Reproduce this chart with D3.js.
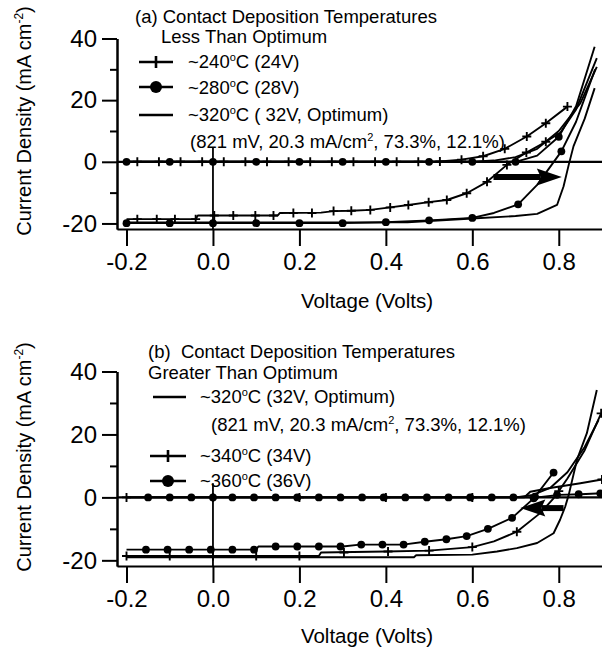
<!DOCTYPE html>
<html lang="en">
<head>
<meta charset="utf-8">
<title>J-V curves vs contact deposition temperature</title>
<style>
  body { margin:0; background:white; }
  svg { font-family: 'Liberation Sans', Arial, sans-serif; fill:black; }
  .axis path, .axis line { stroke:black; stroke-width:2; }
  .axis text { font-size:24px; fill:black; font-family: 'Liberation Sans', Arial, sans-serif; }
  .curve { fill:none; stroke:black; stroke-width:1.9; stroke-linejoin:round; }
  .lbl { font-size:18.5px; white-space:pre; }
</style>
</head>
<body>
<div id="canvas"></div>
<script src="https://cdnjs.cloudflare.com/ajax/libs/d3/7.8.5/d3.min.js"></script>
<script>
// tick values
var voltTicks = [-0.2, 0, 0.2, 0.4, 0.6, 0.8];
var curTicks = [-20, 0, 20, 40];
var curMinor = [-10, 10, 30];

// (a) less than optimum  [V, mA/cm2]
var a240Dark = [[-0.2,0],[0.5,0],[0.525,0.1],[0.575,0.7],[0.625,1.8],[0.675,4.2],[0.726,8.2],[0.77,12.5],[0.82,17.9]];
var a240DarkMarks = [[-0.175,0],[-0.125,0],[-0.075,0],[-0.025,0],[0.025,0],[0.075,0],[0.125,0],[0.175,0],[0.225,0],[0.275,0],[0.325,0],[0.375,0],[0.425,0],[0.475,0],[0.525,0.1],[0.575,0.7],[0.625,1.8],[0.675,4.2],[0.726,8.2],[0.77,12.5],[0.82,17.9]];
var a240Light = [[-0.2,-18.6],[-0.04,-18.6],[-0.035,-17.4],[0.15,-17.4],[0.155,-16.6],[0.25,-16.5],[0.279,-16.0],[0.32,-15.9],[0.364,-15.6],[0.41,-14.8],[0.452,-14.0],[0.499,-13.1],[0.541,-12.4],[0.587,-10.2],[0.634,-6.5],[0.68,-1.0],[0.725,3.0],[0.77,6.5],[0.804,9.5],[0.84,17],[0.888,33.6]];
var a240LightMarks = [[-0.175,-18.6],[-0.13,-18.6],[-0.088,-18.6],[-0.04,-18.6],[0.003,-17.4],[0.047,-17.4],[0.098,-17.4],[0.14,-17.4],[0.186,-16.6],[0.229,-16.6],[0.279,-16.0],[0.32,-15.9],[0.364,-15.6],[0.41,-14.8],[0.452,-14.0],[0.499,-13.1],[0.541,-12.4],[0.587,-10.2],[0.634,-6.5],[0.68,-1.0],[0.725,3.0],[0.77,6.5]];
var a280Dark = [[-0.2,0],[0.7,0],[0.75,2.0],[0.8,8.1],[0.84,18],[0.883,37.3]];
var a280DarkMarks = [[-0.2,0],[-0.1,0],[0,0],[0.1,0],[0.2,0],[0.3,0],[0.4,0],[0.5,0],[0.6,0],[0.7,0],[0.8,8.1]];
var a280Light = [[-0.2,-19.9],[0.3,-19.9],[0.4,-19.6],[0.5,-19.0],[0.6,-18.2],[0.65,-16.6],[0.706,-13.8],[0.75,-7.5],[0.806,3.4],[0.84,13],[0.884,30]];
var a280LightMarks = [[-0.2,-19.9],[-0.1,-19.9],[0,-19.9],[0.1,-19.9],[0.2,-19.9],[0.3,-19.9],[0.4,-19.6],[0.5,-19.0],[0.6,-18.2],[0.706,-13.8],[0.806,3.4]];
var a320Dark = [[-0.2,0],[0.6,0],[0.65,0.4],[0.7,1.5],[0.75,4.2],[0.8,10],[0.85,19],[0.888,30.8]];
var a320Light = [[-0.2,-19.7],[0.45,-19.6],[0.6,-18.4],[0.7,-17.6],[0.75,-16.9],[0.796,-14],[0.811,-8],[0.823,-1],[0.834,5],[0.86,14],[0.883,23.9]];

// (b) greater than optimum
var b320Dark = [[-0.2,0],[0.7,0],[0.74,0.8],[0.78,3],[0.82,8],[0.86,16],[0.892,24.6]];
var b320Light = [[-0.2,-19.0],[0.465,-19.0],[0.47,-18.4],[0.6,-18.2],[0.657,-17.2],[0.703,-16.1],[0.75,-14.5],[0.788,-11.4],[0.803,-7.1],[0.815,-2.9],[0.823,0.8],[0.842,11.9],[0.865,20.4],[0.888,34.1]];
var b340Dark = [[-0.2,0],[0.72,0],[0.734,1.8],[0.78,3],[0.85,4.5],[0.9,5.7]];
var b340DarkMarks = [[-0.2,0],[0,0],[0.2,0],[0.4,0],[0.6,0],[0.9,5.7]];
var b340Light = [[-0.2,-18.6],[0.245,-18.6],[0.25,-17.5],[0.4,-17.2],[0.5,-16.9],[0.6,-15.8],[0.65,-14],[0.703,-10.9],[0.757,-5],[0.79,0],[0.82,6],[0.86,15],[0.898,26.7]];
var b340LightMarks = [[-0.2,-18.6],[-0.1,-18.6],[0,-18.6],[0.1,-18.6],[0.2,-18.6],[0.303,-17.5],[0.405,-17.2],[0.5,-16.9],[0.6,-15.8],[0.703,-10.9],[0.8,2],[0.898,26.7]];
var b360Dark = [[-0.2,0],[0.75,0],[0.8,0.8],[0.85,1.0],[0.9,1.3]];
var b360DarkMarks = [[-0.15,0],[-0.1,0],[-0.05,0],[0,0],[0.045,0],[0.095,0],[0.145,0],[0.195,0],[0.245,0],[0.295,0],[0.345,0],[0.395,0],[0.445,0],[0.495,0],[0.545,0],[0.595,0],[0.645,0],[0.695,0],[0.745,0.2],[0.796,0.8],[0.846,1.0],[0.896,1.3]];
var b360Light = [[-0.2,-16.6],[0.1,-16.6],[0.105,-15.6],[0.3,-15.6],[0.34,-15.0],[0.44,-15.0],[0.49,-14.1],[0.54,-13.3],[0.587,-12.3],[0.636,-10.0],[0.692,-6.5],[0.742,-0.3],[0.788,7.9]];
var b360LightMarks = [[-0.155,-16.6],[-0.105,-16.6],[-0.055,-16.6],[-0.005,-16.6],[0.045,-16.6],[0.095,-16.6],[0.145,-15.6],[0.195,-15.6],[0.245,-15.6],[0.295,-15.6],[0.343,-15.0],[0.392,-15.0],[0.441,-15.0],[0.49,-14.1],[0.54,-13.3],[0.587,-12.3],[0.636,-10.0],[0.692,-6.5],[0.742,-0.3],[0.788,7.9]];

// arrows (tail, tip) and the short vertical line at 0 V
var arrowA = [[0.649,-4.9],[0.807,-4.9]];
var arrowB = [[0.811,-3.4],[0.711,-3.4]];
var zeroVLine = [4.5, -21.8];

// legend text
var titleA = ["(a) Contact Deposition Temperatures", "Less Than Optimum"];
var titleB = ["(b)  Contact Deposition Temperatures", "Greater Than Optimum"];
var labelsA = [["~240","C (24V)"],["~280","C (28V)"],["~320","C ( 32V, Optimum)"]];
var labelsB = [["~320","C (32V, Optimum)"],["~340","C (34V)"],["~360","C (36V)"]];
var statsText = ["(821 mV, 20.3 mA/cm", "2", ", 73.3%, 12.1%)"];

var width = 602, height = 649;

var svg = d3.select("#canvas").append("svg")
    .attr("width", width)
    .attr("height", height);

svg.append("rect").attr("width", width).attr("height", height).attr("fill", "white");

var x = d3.scaleLinear().domain([-0.222, 0.9]).range([117, 602]);
var yA = d3.scaleLinear().domain([-21.8, 40]).range([229, 38.5]);
var yB = d3.scaleLinear().domain([-21.8, 40]).range([566, 371.5]);

function drawAxes(y, bottom) {
  svg.append("g")
      .attr("class", "axis")
      .attr("transform", "translate(0," + bottom + ")")
      .call(d3.axisBottom(x).tickValues(voltTicks).tickSize(17).tickSizeOuter(0).tickPadding(7)
        .tickFormat(function(d) { return d.toFixed(1); }));

  svg.append("g")
      .attr("class", "axis")
      .attr("transform", "translate(117,0)")
      .call(d3.axisLeft(y).tickValues(curTicks).tickSize(15).tickSizeOuter(0).tickPadding(5)
        .tickFormat(function(d) { return String(d); }));

  svg.append("g")
      .attr("class", "axis")
      .attr("transform", "translate(117,0)")
      .call(d3.axisLeft(y).tickValues(curMinor).tickSize(7).tickSizeOuter(0).tickFormat(""));

  // zero lines
  svg.append("line")
      .attr("x1", x.range()[0]).attr("x2", x.range()[1])
      .attr("y1", y(0)).attr("y2", y(0))
      .attr("stroke", "black").attr("stroke-width", 2.2);
  svg.append("line")
      .attr("x1", x(0)).attr("x2", x(0))
      .attr("y1", y(zeroVLine[0])).attr("y2", y(zeroVLine[1]))
      .attr("stroke", "black").attr("stroke-width", 1.8);
}

function drawCurve(y, pts) {
  var line = d3.line().x(function(d) { return x(d[0]); }).y(function(d) { return y(d[1]); });
  svg.append("path").datum(pts).attr("class", "curve").attr("d", line);
}

function drawCrosses(y, pts) {
  svg.append("g").selectAll("path")
      .data(pts)
    .enter().append("path")
      .attr("d", "M-4.5,0H4.5M0,-4.5V4.5")
      .attr("transform", function(d) { return "translate(" + x(d[0]) + "," + y(d[1]) + ")"; })
      .attr("stroke", "black").attr("stroke-width", 1.9);
}

function drawDots(y, pts) {
  svg.append("g").selectAll("circle")
      .data(pts)
    .enter().append("circle")
      .attr("cx", function(d) { return x(d[0]); })
      .attr("cy", function(d) { return y(d[1]); })
      .attr("r", 3.9)
      .attr("fill", "black");
}

function drawArrow(y, a) {
  var x0 = x(a[0][0]), x1 = x(a[1][0]), yy = y(a[0][1]);
  var dir = x1 > x0 ? 1 : -1;
  var base = x1 - dir * 25;
  svg.append("line")
      .attr("x1", x0).attr("x2", base + dir * 4)
      .attr("y1", yy).attr("y2", yy)
      .attr("stroke", "black").attr("stroke-width", 6);
  svg.append("path")
      .attr("d", "M" + x1 + "," + yy + "L" + base + "," + (yy - 8.5) + "L" + (base + dir * 4) + "," + yy +
                 "L" + base + "," + (yy + 8.5) + "Z")
      .attr("fill", "black");
}

function legendLine(lx1, lx2, ly, kind) {
  svg.append("line")
      .attr("x1", lx1).attr("x2", lx2).attr("y1", ly).attr("y2", ly)
      .attr("stroke", "black").attr("stroke-width", 2.6);
  var cx = (lx1 + lx2) / 2;
  if (kind == "cross") {
    svg.append("line").attr("x1", cx).attr("x2", cx).attr("y1", ly - 6).attr("y2", ly + 6)
        .attr("stroke", "black").attr("stroke-width", 2.6);
  } else if (kind == "dot") {
    svg.append("circle").attr("cx", cx).attr("cy", ly).attr("r", 6).attr("fill", "black");
  }
}

function degText(tx, ty, parts) {
  var t = svg.append("text").attr("class", "lbl").attr("x", tx).attr("y", ty);
  t.append("tspan").text(parts[0]);
  t.append("tspan").attr("dy", -7).style("font-size", "11px").text("o");
  t.append("tspan").attr("dy", 7).text(parts[1]);
}

function statsLine(tx, ty) {
  var t = svg.append("text").attr("class", "lbl").attr("x", tx).attr("y", ty);
  t.append("tspan").text(statsText[0]);
  t.append("tspan").attr("dy", -7).style("font-size", "11px").text(statsText[1]);
  t.append("tspan").attr("dy", 7).text(statsText[2]);
}

function axisTitles(yMid, yScaleTitle) {
  svg.append("text")
      .attr("x", 367).attr("y", yScaleTitle)
      .style("text-anchor", "middle").style("font-size", "20.5px")
      .text("Voltage (Volts)");
  var t = svg.append("text")
      .attr("transform", "translate(31," + yMid + ") rotate(-90)")
      .style("text-anchor", "middle").style("font-size", "20px");
  t.append("tspan").text("Current Density (mA cm");
  t.append("tspan").attr("dy", -8).style("font-size", "12px").text("-2");
  t.append("tspan").attr("dy", 8).text(")");
}

// panel (a)
drawAxes(yA, 229);
[a240Dark, a240Light, a280Dark, a280Light, a320Dark, a320Light].forEach(function(c) { drawCurve(yA, c); });
drawCrosses(yA, a240DarkMarks);
drawCrosses(yA, a240LightMarks);
drawDots(yA, a280DarkMarks);
drawDots(yA, a280LightMarks);
drawArrow(yA, arrowA);
axisTitles(121, 308);

svg.append("text").attr("class", "lbl").attr("x", 135).attr("y", 23).text(titleA[0]);
svg.append("text").attr("class", "lbl").attr("x", 161).attr("y", 43).text(titleA[1]);
legendLine(139, 173, 62, "cross");
degText(188, 68, labelsA[0]);
legendLine(139, 173, 87, "dot");
degText(188, 94, labelsA[1]);
legendLine(139, 173, 115, "plain");
degText(188, 121, labelsA[2]);
statsLine(190, 148);

// panel (b)
drawAxes(yB, 566);
[b320Dark, b320Light, b340Dark, b340Light, b360Dark, b360Light].forEach(function(c) { drawCurve(yB, c); });
drawCrosses(yB, b340DarkMarks);
drawCrosses(yB, b340LightMarks);
drawDots(yB, b360DarkMarks);
drawDots(yB, b360LightMarks);
drawArrow(yB, arrowB);
axisTitles(457, 643);

svg.append("text").attr("class", "lbl").attr("x", 148).attr("y", 358).text(titleB[0]);
svg.append("text").attr("class", "lbl").attr("x", 148).attr("y", 379).text(titleB[1]);
legendLine(153, 186, 397, "plain");
degText(200, 403, labelsB[0]);
statsLine(211, 431);
legendLine(150, 186, 456, "cross");
degText(200, 462, labelsB[1]);
legendLine(150, 186, 481, "dot");
degText(200, 487, labelsB[2]);
</script>
</body>
</html>
